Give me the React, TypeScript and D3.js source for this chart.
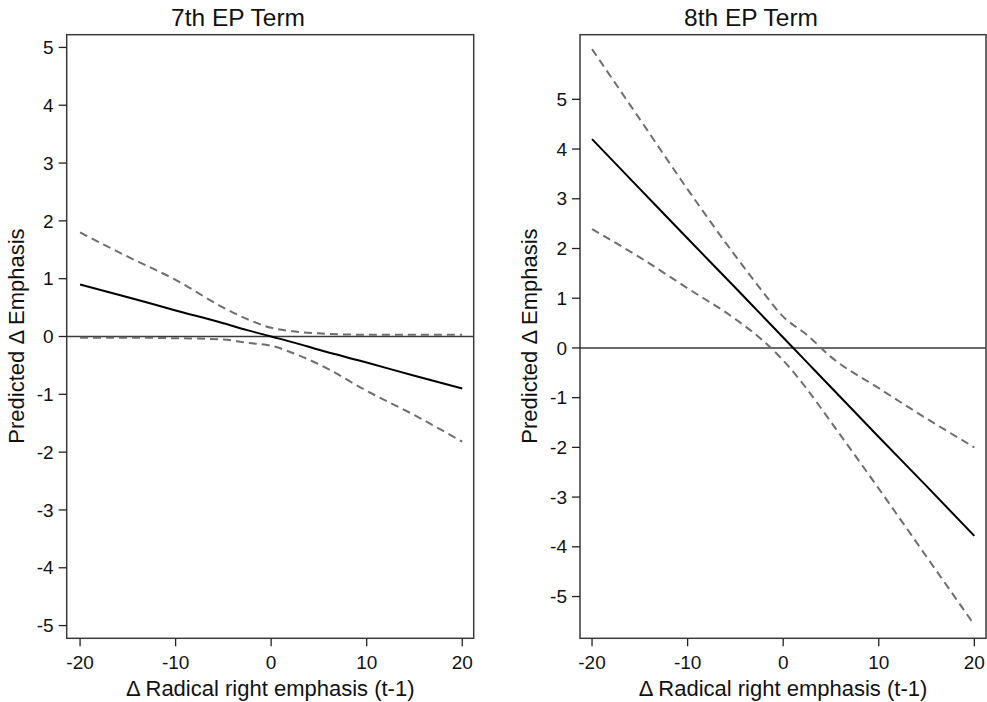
import React from "react";
import * as d3 from "d3";

const xValues = [-20, -15, -10, -5, -2.5, 0, 2.5, 5, 10, 15, 20];

// 7th EP Term
const term7Fit = [0.9, 0.68, 0.45, 0.23, 0.11, 0, -0.11, -0.23, -0.45, -0.68, -0.9];
const term7Upper = [1.8, 1.38, 0.98, 0.5, 0.3, 0.15, 0.085, 0.055, 0.03, 0.03, 0.03];
const term7Lower = [-0.02, -0.02, -0.03, -0.05, -0.11, -0.16, -0.3, -0.48, -0.94, -1.36, -1.82];

// 8th EP Term
const term8Fit = [4.2, 3.2, 2.2, 1.21, 0.71, 0.21, -0.29, -0.79, -1.79, -2.78, -3.78];
const term8Upper = [6.01, 4.6, 3.19, 1.85, 1.22, 0.63, 0.26, -0.18, -0.81, -1.42, -2.0];
const term8Lower = [2.39, 1.82, 1.2, 0.58, 0.21, -0.25, -0.83, -1.49, -2.83, -4.2, -5.57];

const xTicks = [-20, -10, 0, 10, 20];
const yTicks7 = [5, 4, 3, 2, 1, 0, -1, -2, -3, -4, -5];
const yTicks8 = [5, 4, 3, 2, 1, 0, -1, -2, -3, -4, -5];

const titles = ["7th EP Term", "8th EP Term"];
const xTitle = "\u0394 Radical right emphasis (t-1)";
const yTitle = "Predicted \u0394 Emphasis";

const FONT = "'Liberation Sans', Arial, Helvetica, sans-serif";

type PanelProps = {
  title: string;
  fit: number[];
  upper: number[];
  lower: number[];
  yTicks: number[];
  xDomain: [number, number];
  yDomain: [number, number];
  left: number;
  right: number;
  yLabelX: number;
  titleX: number;
};

const TOP = 34.7;
const BOTTOM = 638.3;

function Panel(p: PanelProps) {
  const x = d3.scaleLinear().domain(p.xDomain).range([p.left, p.right]);
  const y = d3.scaleLinear().domain(p.yDomain).range([BOTTOM, TOP]);
  const line = d3
    .line<number>()
    .x((_, i) => x(xValues[i]))
    .y((d) => y(d))
    .curve(d3.curveMonotoneX);
  const cx = (p.left + p.right) / 2;
  return (
    <g>
      <text x={p.titleX} y={26} textAnchor="middle" fontSize={24.5} fill="#111" fontFamily={FONT}>
        {p.title}
      </text>
      <line x1={p.left} x2={p.right} y1={y(0)} y2={y(0)} stroke="#3a3a3a" strokeWidth={1.6} />
      <path d={line(p.upper) || ""} fill="none" stroke="#6e6e6e" strokeWidth={2} strokeDasharray="8,5" />
      <path d={line(p.lower) || ""} fill="none" stroke="#6e6e6e" strokeWidth={2} strokeDasharray="8,5" />
      <path d={line(p.fit) || ""} fill="none" stroke="#000" strokeWidth={2} />
      <rect
        x={p.left}
        y={TOP}
        width={p.right - p.left}
        height={BOTTOM - TOP}
        fill="none"
        stroke="#3a3a3a"
        strokeWidth={1.5}
      />
      {p.yTicks.map((t) => (
        <g key={"y" + t}>
          <line x1={p.left - 8} x2={p.left} y1={y(t)} y2={y(t)} stroke="#222" strokeWidth={1.3} />
          <text
            x={p.left - 13}
            y={y(t)}
            dy="0.35em"
            textAnchor="end"
            fontSize={19}
            fill="#111"
            fontFamily={FONT}
          >
            {t}
          </text>
        </g>
      ))}
      {xTicks.map((t) => (
        <g key={"x" + t}>
          <line x1={x(t)} x2={x(t)} y1={BOTTOM} y2={BOTTOM + 8} stroke="#222" strokeWidth={1.3} />
          <text x={x(t)} y={669} textAnchor="middle" fontSize={19} fill="#111" fontFamily={FONT}>
            {t}
          </text>
        </g>
      ))}
      <text x={cx} y={696} textAnchor="middle" fontSize={22} fill="#111" fontFamily={FONT}>
        {xTitle}
      </text>
      <text
        transform={`translate(${p.yLabelX},336) rotate(-90)`}
        textAnchor="middle"
        fontSize={22}
        fill="#111"
        fontFamily={FONT}
      >
        {yTitle}
      </text>
    </g>
  );
}

export default function App() {
  return (
    <svg
      width={987}
      height={702}
      style={{ position: "absolute", left: 0, top: 0, background: "#fff" }}
    >
      <rect x={0} y={0} width={987} height={702} fill="#fff" />
      <Panel
        title={titles[0]}
        fit={term7Fit}
        upper={term7Upper}
        lower={term7Lower}
        yTicks={yTicks7}
        xDomain={[-21.4, 21.2]}
        yDomain={[-5.22, 5.22]}
        left={66.7}
        right={473.7}
        yLabelX={23.5}
        titleX={238}
      />
      <Panel
        title={titles[1]}
        fit={term8Fit}
        upper={term8Upper}
        lower={term8Lower}
        yTicks={yTicks8}
        xDomain={[-21.26, 21.22]}
        yDomain={[-5.84, 6.3]}
        left={580}
        right={986}
        yLabelX={536.5}
        titleX={751}
      />
    </svg>
  );
}
